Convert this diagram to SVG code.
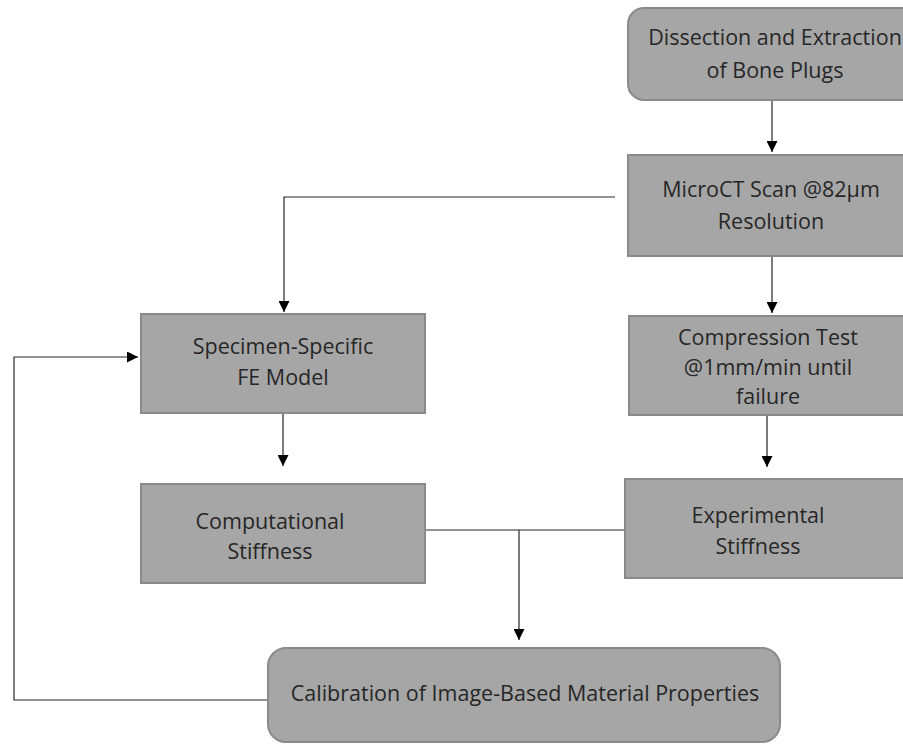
<svg xmlns="http://www.w3.org/2000/svg" width="903" height="744" viewBox="0 0 903 744">
<style>
.box{fill:#a6a6a6;stroke:#8a8a8a;stroke-width:2}
.t{font-family:"Open Sans","Liberation Sans",sans-serif;font-size:21.5px;fill:#262626;text-anchor:middle}
.c{fill:none;stroke:#262626;stroke-width:1.2}
</style>
<defs>
<marker id="ah" viewBox="0 0 10 10" refX="10" refY="5" markerWidth="11" markerHeight="11" markerUnits="userSpaceOnUse" orient="auto">
<path d="M0,0 L10,5 L0,10 z" fill="#000"/>
</marker>
</defs>
<rect width="903" height="744" fill="#fff"/>
<g id="connectors">
<path class="c" d="M772,100 V152" marker-end="url(#ah)"/>
<path class="c" d="M615,197 H284 V312" marker-end="url(#ah)"/>
<path class="c" d="M772,257 V313" marker-end="url(#ah)"/>
<path class="c" d="M767,416 V467" marker-end="url(#ah)"/>
<path class="c" d="M283,414 V466" marker-end="url(#ah)"/>
<path class="c" d="M425,530 H625"/>
<path class="c" d="M519,530 V640" marker-end="url(#ah)"/>
<path class="c" d="M268,700 H14 V357 H138" marker-end="url(#ah)"/>
</g>
<g id="dissection">
<rect class="box" x="628" y="8" width="290" height="92" rx="16"/>
<text class="t" x="775" y="45">Dissection and Extraction</text>
<text class="t" x="775" y="78">of Bone Plugs</text>
</g>
<g id="microct">
<rect class="box" x="628" y="155" width="290" height="101"/>
<text class="t" x="771" y="197">MicroCT Scan @82µm</text>
<text class="t" x="771" y="229">Resolution</text>
</g>
<g id="compression">
<rect class="box" x="629" y="316" width="290" height="99"/>
<text class="t" x="768" y="345">Compression  Test</text>
<text class="t" x="768" y="375">@1mm/min until</text>
<text class="t" x="768" y="404">failure</text>
</g>
<g id="experimental">
<rect class="box" x="625" y="479" width="290" height="99"/>
<text class="t" x="758" y="523">Experimental</text>
<text class="t" x="758" y="554">Stiffness</text>
</g>
<g id="specimen">
<rect class="box" x="141" y="314" width="284" height="99"/>
<text class="t" x="283" y="354">Specimen-Specific</text>
<text class="t" x="283" y="385">FE Model</text>
</g>
<g id="computational">
<rect class="box" x="141" y="484" width="284" height="99"/>
<text class="t" x="270" y="529">Computational</text>
<text class="t" x="270" y="559">Stiffness</text>
</g>
<g id="calibration">
<rect class="box" x="268" y="648" width="512" height="94" rx="18"/>
<text class="t" x="525" y="701">Calibration of Image-Based Material Properties</text>
</g>
</svg>
